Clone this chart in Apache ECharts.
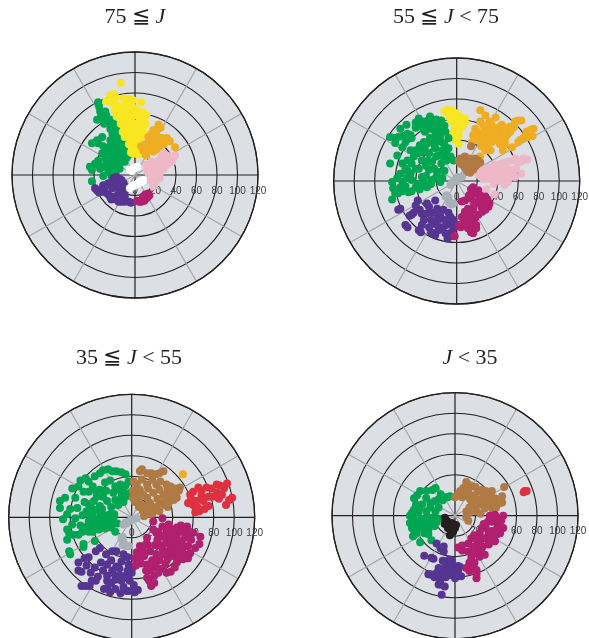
<!DOCTYPE html>
<html><head><meta charset="utf-8">
<style>html,body{margin:0;padding:0;background:#fff}#c{width:589px;height:638px}</style>
<script src="https://cdn.jsdelivr.net/npm/echarts@6/dist/echarts.min.js"></script>
</head><body><div id="c"></div>
<script>
// Values as [a, b] chroma pairs; each panel's colour groups.
const titles = [['75 ≦ ','J',''],['55 ≦ ','J',' < 75'],['35 ≦ ','J',' < 55'],['','J',' < 35']];
const radiusTicks = [0,20,40,60,80,100,120];

const p1Yellow=[[-14,90],[-21,79],[-24,78],[-19,76],[-28,72],[-23,71],[-18,68],[-11,75],[-6,74],[-2,73],[6,71],[-10,68],[-3,67],[2,63],[8,61],[-15,62],[-8,60],[-2,58],[5,57],[11,58],[-18,57],[-13,54],[-6,52],[0,50],[6,52],[10,50],[-11,47],[-5,45],[2,45],[6,45],[-8,41],[-2,42],[-10,37],[-3,37],[5,37],[3,34],[-2,31],[-3,26],[2,24],[-2,21],[5,23],[-20,64],[-14,66],[-7,64],[3,58],[8,56],[-10,58],[-16,57],[-4,55],[4,49],[-8,48],[8,47],[-14,50],[-6,36],[1,39],[0,28],[4,30],[-4,22],[3,20],[9,40],[-3,48],[-1,65],[-12,42],[-6,30]];
const p1Green=[[-36,71],[-35,67],[-34,62],[-29,62],[-37,54],[-32,55],[-28,58],[-26,52],[-21,50],[-24,45],[-19,44],[-15,42],[-18,37],[-13,32],[-10,29],[-19,31],[-42,31],[-37,34],[-32,37],[-36,31],[-31,28],[-24,28],[-18,26],[-11,24],[-28,23],[-32,21],[-21,21],[-15,19],[-10,21],[-29,16],[-23,15],[-18,15],[-13,15],[-39,11],[-44,8],[-42,5],[-36,10],[-31,8],[-24,10],[-18,9],[-15,11],[-26,3],[-31,-1],[-19,2],[-42,-6],[-33,58],[-30,50],[-23,54],[-22,40],[-16,47],[-13,37],[-8,33],[-16,24],[-13,28],[-24,34],[-26,20],[-21,26],[-7,26],[-8,17],[-11,17],[-18,20],[-24,18],[-28,11],[-21,6],[-15,6],[-27,8],[-34,6],[-23,-1],[-36,14],[-10,13],[-6,20]];
const p1Orange=[[23,49],[18,44],[13,37],[18,36],[21,37],[31,36],[26,32],[15,31],[19,29],[39,27],[24,28],[16,24],[11,19],[18,23],[6,28],[20,42],[25,46],[14,33],[22,33],[28,30],[21,25],[13,24],[26,36],[16,40],[10,30],[8,24],[34,33]];
const p1Pink=[[39,19],[34,18],[28,21],[36,13],[29,15],[24,15],[19,11],[11,10],[15,5],[21,5],[28,6],[24,-3],[18,0],[13,2],[18,-6],[21,-5],[18,-11],[15,-5],[32,11],[37,16],[31,19],[26,18],[22,13],[16,13],[14,9],[25,10],[22,2],[30,9],[17,3],[19,-9],[24,1],[20,-2],[33,15],[12,5],[16,-1]];
const p1White=[[-2,6],[2,8],[-5,5],[5,-6],[0,-10],[-5,-13],[8,-5],[-3,-11],[0,7],[-3,4],[3,-8],[-2,-11],[6,-7],[-1,7]];
const p1Purple=[[-39,-13],[-35,-17],[-31,-10],[-26,-8],[-21,-3],[-18,-2],[-19,-10],[-11,-8],[-15,-13],[-10,-16],[-26,-19],[-23,-24],[-18,-24],[-13,-26],[-6,-26],[-16,-18],[-10,-21],[-37,-15],[-33,-14],[-28,-10],[-23,-7],[-16,-6],[-13,-5],[-22,-13],[-24,-22],[-20,-21],[-16,-26],[-10,-26],[-4,-27],[-13,-19],[-8,-12],[-29,-17],[-15,-4],[-20,-7]];
const p1Magenta=[[13,-18],[11,-23],[6,-26],[2,-25],[8,-21],[14,-20],[9,-25],[4,-26],[12,-22],[7,-24],[10,-19]];

const p2Yellow=[[-12,68],[-5,69],[-8,66],[-3,63],[3,63],[8,61],[-5,58],[2,56],[6,54],[-2,51],[2,44],[-2,43],[2,36],[-10,69],[-7,62],[-1,66],[-9,69],[5,58],[-2,58],[1,62],[6,60],[-4,64],[3,51],[1,47],[-3,47],[8,57],[-1,40]];
const p2Orange=[[23,69],[28,64],[38,62],[32,58],[23,58],[18,51],[28,51],[34,55],[44,55],[54,51],[57,58],[63,59],[75,51],[71,46],[74,44],[65,42],[60,38],[54,33],[44,43],[37,46],[50,46],[47,40],[39,40],[32,45],[24,46],[16,45],[21,40],[29,35],[15,38],[28,30],[34,38],[45,30],[23,24],[52,53],[20,48],[26,54],[35,50],[40,52],[30,47],[42,48],[46,52],[52,48],[48,44],[56,53],[68,48],[62,40],[70,43],[25,38],[36,42],[42,36],[29,42],[18,42],[24,34],[33,30],[47,36],[40,46],[31,37],[72,50],[60,59]];
const p2Green=[[-37,61],[-26,63],[-15,59],[-36,54],[-24,56],[-49,55],[-55,51],[-65,43],[-57,43],[-45,45],[-60,37],[-50,38],[-44,42],[-31,48],[-21,48],[-11,48],[-8,42],[-26,42],[-15,38],[-36,35],[-45,30],[-58,25],[-65,17],[-21,32],[-8,32],[-27,27],[-18,25],[-6,24],[-34,20],[-44,17],[-53,17],[-24,19],[-15,17],[-37,12],[-27,11],[-19,9],[-55,7],[-45,7],[-34,4],[-16,-1],[-24,1],[-63,-1],[-53,-1],[-44,1],[-62,-7],[-53,-10],[-44,-10],[-63,-18],[-36,-8],[-29,-6],[-33,58],[-20,60],[-28,59],[-18,54],[-12,54],[-30,54],[-40,57],[-25,51],[-16,44],[-28,37],[-20,42],[-12,36],[-32,38],[-60,42],[-52,44],[-53,33],[-48,46],[-40,30],[-34,28],[-38,27],[-28,20],[-20,24],[-13,25],[-10,20],[-30,15],[-12,21],[-3,20],[-40,12],[-48,20],[-50,12],[-30,5],[-22,12],[-12,10],[-25,-3],[-20,4],[-58,3],[-49,3],[-38,-3],[-55,-6],[-60,-12],[-50,-5],[-40,-6],[-32,-2],[-47,-11],[-57,-12],[-14,3],[-10,26],[-40,52],[-32,50],[-17,48],[-22,36],[-31,31],[-42,24],[-48,10],[-14,30]];
const p2Brown=[[14,34],[2,20],[8,24],[15,20],[21,20],[5,16],[11,14],[18,14],[10,9],[16,11],[4,22],[12,22],[18,22],[6,19],[11,18],[17,18],[8,13],[13,10],[3,18],[20,16],[14,13],[7,22],[23,18],[13,8]];
const p2Pink=[[23,14],[37,16],[50,19],[63,19],[69,21],[57,22],[44,17],[53,11],[63,7],[28,7],[21,6],[34,7],[44,9],[37,1],[50,3],[57,4],[47,-4],[29,-8],[37,-13],[28,3],[26,12],[31,13],[42,14],[47,18],[55,20],[60,18],[48,13],[40,10],[35,11],[30,5],[26,2],[31,2],[40,5],[44,4],[47,8],[53,6],[42,0],[55,9],[46,0],[50,-1],[58,12],[65,22],[36,-3],[24,10]];
const p2Gray=[[-5,-2],[-2,1],[5,4],[-10,-14],[-8,-19],[-5,-23],[-6,-4],[2,3],[-11,-15],[-8,-16],[-7,-22],[-3,-22],[1,4],[-3,-1]];
const p2Magenta=[[16,-6],[19,-12],[8,-19],[28,-15],[32,-22],[21,-19],[28,-28],[16,-28],[11,-27],[5,-35],[18,-36],[11,-38],[2,-44],[13,-45],[16,-51],[-2,-54],[6,-35],[24,-25],[14,-8],[17,-10],[21,-9],[23,-14],[12,-14],[14,-17],[26,-20],[30,-18],[31,-25],[24,-17],[13,-33],[8,-30],[21,-33],[15,-40],[19,-43],[7,-38],[9,-42],[4,-45],[14,-50],[11,-46],[19,-46],[25,-30],[27,-25],[5,-20],[17,-23]];
const p2Purple=[[-57,-28],[-38,-19],[-44,-33],[-36,-28],[-50,-43],[-32,-38],[-37,-48],[-29,-22],[-21,-19],[-24,-31],[-13,-28],[-18,-38],[-6,-35],[-27,-45],[-15,-45],[-21,-53],[-6,-54],[-5,-41],[-11,-51],[-55,-27],[-40,-24],[-42,-31],[-48,-45],[-46,-34],[-34,-32],[-30,-32],[-34,-43],[-35,-50],[-25,-38],[-27,-25],[-19,-27],[-16,-34],[-21,-42],[-11,-38],[-8,-31],[-3,-38],[-10,-43],[-3,-46],[-18,-48],[-25,-50],[-9,-56],[-14,-47],[-19,-33],[-5,-50]];

const p3Brown=[[8,45],[15,43],[24,42],[31,45],[5,32],[15,32],[24,32],[34,32],[47,29],[44,19],[3,22],[11,22],[21,24],[31,22],[37,24],[8,14],[18,14],[28,14],[37,16],[11,6],[21,9],[15,3],[1,19],[10,47],[19,43],[27,43],[2,35],[10,37],[20,37],[28,35],[38,30],[42,28],[8,27],[16,28],[27,27],[35,28],[40,23],[1,26],[6,20],[15,19],[25,18],[33,19],[41,17],[3,15],[13,11],[24,10],[32,12],[7,10],[17,6],[27,6],[12,1],[20,3],[35,10],[36,14],[46,26]];
const p3Red=[[57,22],[65,29],[73,29],[55,14],[63,16],[66,6],[75,11],[83,32],[93,33],[88,22],[98,19],[92,12],[79,20],[60,25],[68,26],[60,12],[70,16],[58,18],[71,8],[62,5],[78,28],[86,31],[90,28],[83,24],[75,20],[85,18],[95,17],[68,21],[64,10]];
const p3Orange=[[50,42]];
const p3Green=[[-31,43],[-23,47],[-15,45],[-6,42],[-50,36],[-58,28],[-42,35],[-21,36],[-11,32],[-3,35],[-70,16],[-65,19],[-70,9],[-55,19],[-42,25],[-31,27],[-18,24],[-6,20],[-37,16],[-24,16],[-13,12],[-53,9],[-44,6],[-32,7],[-21,3],[-63,3],[-67,-2],[-55,-1],[-42,-4],[-31,-1],[-21,-6],[-63,-12],[-52,-17],[-63,-22],[-42,-14],[-16,-14],[-36,-23],[-47,-29],[-60,-36],[-28,46],[-19,45],[-10,44],[-36,40],[-45,38],[-52,30],[-47,25],[-38,30],[-26,34],[-16,30],[-6,31],[-25,26],[-13,27],[-8,26],[-1,24],[-10,20],[-28,20],[-46,15],[-34,20],[-16,17],[-31,11],[-20,10],[-8,15],[-38,8],[-48,2],[-26,2],[-36,-3],[-17,3],[-58,-7],[-50,-8],[-28,-6],[-36,-10],[-26,-11],[-38,-14],[-57,-17],[-61,-16],[-46,-10],[-32,-12],[-18,-2],[-14,-6],[-20,-10],[-60,8],[-48,-14],[-47,-26],[-61,-33],[-30,3],[-42,13],[-35,26],[-43,-9],[-38,2],[-26,-5],[-41,-8],[-32,-6],[-22,-3],[-29,8],[-41,3]];
const p3Gray=[[-3,-4],[-8,-7],[5,-1],[-9,-19],[-6,-28],[-5,-6],[-1,-3],[-8,-24],[-9,-27],[-3,-28],[-10,-21],[-6,-5]];
const p3Magenta=[[30,-1],[21,-4],[44,-10],[54,-9],[67,-19],[66,-26],[57,-35],[34,-14],[24,-15],[15,-20],[8,-28],[3,-40],[28,-27],[37,-23],[49,-23],[55,-28],[18,-33],[31,-36],[44,-40],[50,-41],[15,-46],[24,-49],[42,-49],[34,-54],[15,-59],[19,-66],[8,-40],[36,-33],[47,-33],[38,-12],[48,-8],[28,-19],[33,-20],[41,-15],[49,-14],[55,-15],[60,-15],[21,-12],[30,-9],[36,-7],[44,-18],[52,-20],[58,-22],[62,-30],[45,-27],[38,-29],[30,-31],[23,-27],[16,-27],[11,-33],[5,-34],[24,-36],[38,-38],[12,-38],[20,-42],[33,-45],[27,-42],[44,-44],[51,-36],[9,-45],[18,-52],[14,-52],[30,-50],[22,-57],[17,-62],[38,-53],[55,-40],[48,-40],[4,-47],[36,-25],[31,-18],[25,-22],[14,-26],[19,-67],[22,-64],[42,-23],[34,-25],[42,-33],[24,-43],[18,-47],[26,-54],[35,-41],[50,-30],[26,-14],[39,-19],[46,-12]];
const p3Purple=[[-31,-30],[-19,-33],[-8,-36],[-42,-39],[-52,-44],[-49,-53],[-36,-49],[-24,-46],[-15,-48],[-3,-46],[-16,-57],[-6,-57],[-39,-62],[-45,-67],[-24,-69],[-16,-70],[-3,-72],[6,-71],[0,-54],[-24,-57],[-35,-33],[-25,-36],[-15,-33],[-46,-40],[-44,-47],[-52,-52],[-30,-44],[-20,-42],[-10,-43],[-4,-39],[-4,-52],[-12,-50],[-28,-52],[-40,-54],[-19,-52],[-11,-57],[-24,-62],[-33,-58],[-41,-67],[-20,-64],[-10,-62],[-2,-62],[2,-66],[-8,-68],[-21,-73],[-27,-70],[-11,-74],[3,-73],[-16,-61],[-35,-62],[-3,-60],[1,-49],[-5,-72],[-49,-67]];

const p4Brown=[[11,33],[8,27],[16,29],[26,25],[36,24],[48,28],[46,19],[0,18],[10,20],[19,20],[29,17],[39,12],[16,14],[24,11],[34,9],[11,4],[21,4],[13,-5],[14,30],[20,28],[30,24],[34,21],[5,24],[13,24],[23,24],[28,21],[2,20],[7,18],[14,17],[24,16],[33,15],[39,17],[43,12],[46,13],[20,9],[29,7],[37,6],[14,8],[25,2],[11,-1],[29,12],[19,13],[14,3],[40,8]];
const p4Red=[[67,23],[70,24],[68,24]];
const p4Green=[[-19,27],[-28,24],[-34,24],[-40,17],[-10,18],[-16,16],[-24,12],[-32,11],[-40,6],[-44,0],[-36,3],[-28,4],[-19,4],[-31,-4],[-24,-6],[-18,-6],[-42,-12],[-34,-12],[-26,-14],[-41,-20],[-34,-26],[-23,-24],[-5,19],[-22,25],[-37,20],[-14,21],[-7,18],[-20,14],[-28,17],[-38,11],[-12,15],[-35,7],[-24,8],[-16,8],[-42,3],[-33,-3],[-28,-2],[-23,-2],[-16,-3],[-40,-4],[-36,-7],[-26,-9],[-20,-10],[-12,-3],[-38,-17],[-30,-17],[-26,-18],[-31,-9],[-44,-7],[-40,-14],[-28,-14],[-20,-5]];
const p4Black=[[-10,-2],[-10,-8],[-5,-9],[0,-12],[-5,-19],[-2,-10],[-8,-5],[-3,-7],[-2,-13],[-7,-12],[1,-9],[-9,-5],[-4,-12],[-2,-16]];
const p4Magenta=[[39,1],[47,0],[32,-6],[42,-9],[26,-12],[36,-15],[47,-12],[19,-19],[29,-22],[39,-25],[3,-31],[13,-27],[23,-32],[16,-41],[29,-38],[11,-51],[21,-53],[21,-61],[13,-35],[34,0],[40,-3],[36,-6],[28,-8],[45,-5],[30,-12],[42,-14],[33,-18],[24,-17],[44,-17],[25,-24],[34,-22],[22,-26],[16,-22],[7,-29],[7,-34],[18,-30],[27,-30],[33,-28],[19,-37],[24,-40],[19,-46],[14,-46],[14,-54],[18,-50],[21,-57],[26,-36],[36,-20],[41,-18]];
const p4Purple=[[-18,-27],[-11,-35],[-30,-39],[-23,-41],[-6,-43],[3,-49],[-16,-51],[-24,-57],[-13,-57],[-3,-54],[6,-59],[-16,-67],[-10,-69],[-13,-77],[-6,-51],[0,-61],[-14,-32],[-11,-30],[-21,-42],[-9,-48],[-3,-44],[-1,-50],[-12,-44],[-4,-47],[3,-53],[-18,-56],[-22,-58],[-26,-57],[-8,-55],[-2,-58],[3,-58],[-9,-60],[-14,-62],[-20,-60],[-14,-67],[5,-50],[-6,-58],[-12,-53]];

const colors={green:'#00a651',yellow:'#f9e622',orange:'#eead23',pink:'#eeb8c9',purple:'#553591',magenta:'#b0206f',brown:'#b07a45',gray:'#a9b0b7',white:'#ffffff',red:'#e03040',black:'#231f20'};
const panels=[
 {c:[135,175],t:[135,6],s:[['green',p1Green],['yellow',p1Yellow],['orange',p1Orange],['pink',p1Pink],['purple',p1Purple],['magenta',p1Magenta],['white',p1White]]},
 {c:[456.7,181],t:[446,6],s:[['yellow',p2Yellow],['green',p2Green],['orange',p2Orange],['pink',p2Pink],['brown',p2Brown],['gray',p2Gray],['purple',p2Purple],['magenta',p2Magenta]]},
 {c:[131.7,517.3],t:[129,347],s:[['green',p3Green],['brown',p3Brown],['red',p3Red],['orange',p3Orange],['gray',p3Gray],['purple',p3Purple],['magenta',p3Magenta]]},
 {c:[455,515.7],t:[470,347],s:[['green',p4Green],['brown',p4Brown],['red',p4Red],['black',p4Black],['purple',p4Purple],['magenta',p4Magenta]]}
];
// [a,b], expressed as [radius, angle] for the polar axes
const toPolar=([a,b])=>[Math.hypot(a,b),(Math.atan2(b,a)*180/Math.PI+360)%360];

const chart=echarts.init(document.getElementById('c'),null,{renderer:'canvas'});
const series=[];
panels.forEach((p,i)=>p.s.forEach(([k,d])=>series.push({
  type:'scatter',coordinateSystem:'polar',polarIndex:i,name:k,symbol:'circle',symbolSize:8,
  itemStyle:{color:colors[k],opacity:1},data:d.map(toPolar),z:3,silent:true,animation:false
})));
const rmin=radiusTicks[0],rmax=radiusTicks[radiusTicks.length-1];
chart.setOption({
  animation:false,backgroundColor:'#fff',
  title:panels.map((p,i)=>({
    text:`{r|${titles[i][0]}}{i|${titles[i][1]}}{r|${titles[i][2]}}`,
    left:p.t[0],top:p.t[1],textAlign:'center',padding:0,
    textStyle:{fontWeight:'normal',rich:{
      r:{fontFamily:'Liberation Serif',fontWeight:'normal',fontSize:22,color:'#231f20'},
      i:{fontFamily:'Liberation Serif',fontWeight:'normal',fontStyle:'italic',fontSize:22,color:'#231f20'}}}
  })),
  // first four polars carry rings/spokes/labels, the last four only the grey disc beneath them
  polar:panels.concat(panels).map(p=>({center:p.c,radius:123})),
  angleAxis:panels.map((p,i)=>({
    polarIndex:i,type:'value',min:0,max:360,interval:30,startAngle:0,clockwise:false,z:0,
    axisLine:{show:true,lineStyle:{color:'#231f20',width:1.3}},axisTick:{show:false},axisLabel:{show:false},
    splitLine:{show:true,lineStyle:{color:['#231f20','#a3a5a8','#a3a5a8'],width:1.2}}
  })).concat(panels.map((p,i)=>({
    polarIndex:i+4,type:'value',min:0,max:360,interval:30,z:-1,
    axisLine:{show:false},axisTick:{show:false},axisLabel:{show:false},splitLine:{show:false}
  }))),
  radiusAxis:panels.map((p,i)=>({
    polarIndex:i,type:'value',min:rmin,max:rmax,interval:20,z:0,
    axisLine:{show:false},axisTick:{show:false},
    axisLabel:{show:true,margin:-21,fontFamily:'Liberation Sans',fontSize:10,color:'#3c3c3c',hideOverlap:false},
    splitLine:{show:true,lineStyle:{color:'#231f20',width:1.1}}
  })).concat(panels.map((p,i)=>({
    polarIndex:i+4,type:'value',min:rmin,max:rmax,interval:20,z:-1,
    axisLine:{show:false},axisTick:{show:false},axisLabel:{show:false},splitLine:{show:false},
    splitArea:{show:true,areaStyle:{color:['#dcdfe4']}}
  }))),
  series
});
</script></body></html>
